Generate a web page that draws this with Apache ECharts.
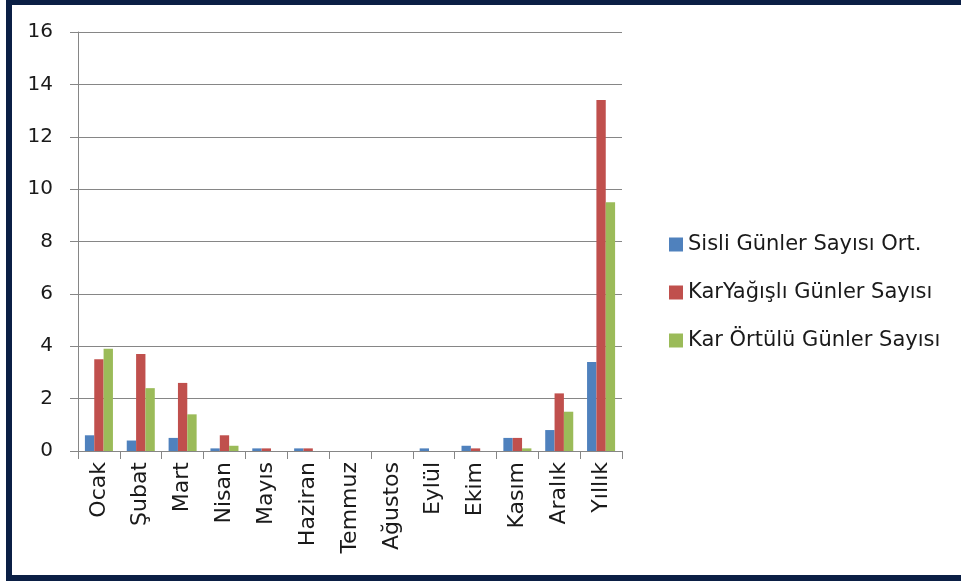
<!DOCTYPE html>
<html>
<head>
<meta charset="utf-8">
<script src="https://cdn.jsdelivr.net/npm/echarts@6/dist/echarts.min.js"></script>
<style>
  html, body { margin: 0; padding: 0; background: #ffffff; }
  #frame { position: absolute; left: 6px; top: 0; width: 955px; height: 581px; box-sizing: border-box;
           border-left: 6px solid #0b1f45; border-top: 5px solid #0b1f45; border-bottom: 6px solid #0b1f45; }
  #chart { position: absolute; left: 0; top: 0; width: 961px; height: 581px; }
</style>
</head>
<body>
<div id="frame"></div>
<div id="chart"></div>
<script>
const categories = ['Ocak', 'Şubat', 'Mart', 'Nisan', 'Mayıs', 'Haziran', 'Temmuz', 'Ağustos', 'Eylül', 'Ekim', 'Kasım', 'Aralık', 'Yıllık'];
const seriesNames = ['Sisli Günler Sayısı Ort.', 'KarYağışlı Günler Sayısı', 'Kar Örtülü Günler Sayısı'];
const sisli = [0.6, 0.4, 0.5, 0.1, 0.1, 0.1, 0, 0, 0.1, 0.2, 0.5, 0.8, 3.4];
const karYagisli = [3.5, 3.7, 2.6, 0.6, 0.1, 0.1, 0, 0, 0, 0.1, 0.5, 2.2, 13.4];
const karOrtulu = [3.9, 2.4, 1.4, 0.2, 0, 0, 0, 0, 0, 0, 0.1, 1.5, 9.5];
const yTicks = [0, 2, 4, 6, 8, 10, 12, 14, 16];

const colors = ['#4f81bd', '#c0504d', '#9bbb59'];
const font = 'DejaVu Sans';

const chart = echarts.init(document.getElementById('chart'));
const mk = (name, data, i) => ({
  name: name, type: 'bar', data: data, barGap: '0%', barCategoryGap: '33%',
  itemStyle: { color: colors[i] },
  emphasis: { disabled: true }
});
chart.setOption({
  animation: false,
  color: colors,
  grid: { left: 78, right: 339, top: 32, bottom: 130, containLabel: false },
  legend: {
    orient: 'vertical', left: 664, top: 229,
    itemWidth: 14, itemHeight: 14, itemGap: 27,
    icon: 'rect',
    textStyle: { fontFamily: font, fontSize: 21, color: '#1a1a1a' },
    data: seriesNames
  },
  xAxis: {
    type: 'category', data: categories,
    axisLine: { lineStyle: { color: '#868686', width: 1 } },
    axisTick: { show: true, length: 8, lineStyle: { color: '#868686' } },
    axisLabel: { rotate: 90, interval: 0, margin: 11, fontFamily: font, fontSize: 22, color: '#1a1a1a' }
  },
  yAxis: {
    type: 'value', min: yTicks[0], max: yTicks[yTicks.length - 1], interval: 2,
    axisLine: { show: true, lineStyle: { color: '#868686', width: 1 } },
    axisTick: { show: true, length: 8, lineStyle: { color: '#868686' } },
    splitLine: { lineStyle: { color: '#868686', width: 1 } },
    axisLabel: { margin: 25, fontFamily: font, fontSize: 20, color: '#1a1a1a' }
  },
  series: [mk(seriesNames[0], sisli, 0), mk(seriesNames[1], karYagisli, 1), mk(seriesNames[2], karOrtulu, 2)]
});
</script>
</body>
</html>
